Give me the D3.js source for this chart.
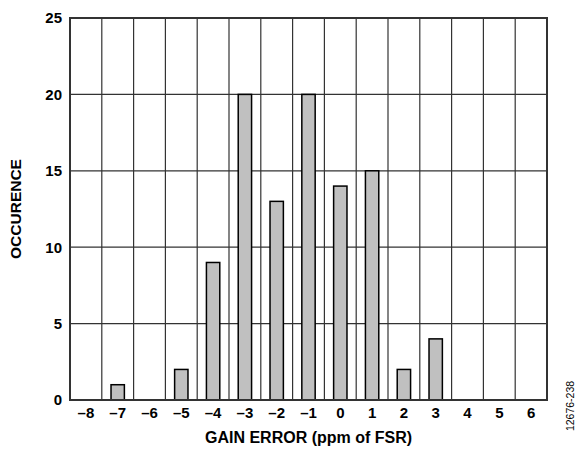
<!DOCTYPE html>
<style>
    body { margin: 0; background: #fff; }
    text { font-family: "Liberation Sans", Arial, sans-serif; }
    .axis .domain { display: none; }
    .axis line { display: none; }
</style>
<svg width="577" height="451"></svg>
<script src="https://d3js.org/d3.v7.min.js"></script>
<script>
    // gain error bins (ppm of FSR) and counts
    var bins = [-8, -7, -6, -5, -4, -3, -2, -1, 0, 1, 2, 3, 4, 5, 6];
    var counts = [0, 1, 0, 2, 9, 20, 13, 20, 14, 15, 2, 4, 0, 0, 0];
    var yTicks = [0, 5, 10, 15, 20, 25];

    var svg = d3.select("svg"),
        margin = { top: 18, right: 30, bottom: 51, left: 70 },
        width = +svg.attr("width") - margin.left - margin.right,
        height = +svg.attr("height") - margin.top - margin.bottom,
        g = svg.append("g").attr("transform", "translate(" + margin.left + "," + margin.top + ")");

    var x = d3.scaleBand().domain(bins).range([0, width]).padding(0);
    var y = d3.scaleLinear().domain([0, 25]).range([height, 0]);

    // grid
    g.append("g").selectAll("line").data(yTicks).enter().append("line")
        .attr("x1", 0).attr("x2", width)
        .attr("y1", function (d) { return y(d); })
        .attr("y2", function (d) { return y(d); })
        .attr("stroke", "#333").attr("stroke-width", 1.2);
    g.append("g").selectAll("line").data(bins.slice(1)).enter().append("line")
        .attr("x1", function (d) { return x(d); })
        .attr("x2", function (d) { return x(d); })
        .attr("y1", 0).attr("y2", height)
        .attr("stroke", "#333").attr("stroke-width", 1.2);

    // bars
    var bw = x.bandwidth() * 0.42;
    g.append("g").selectAll("rect")
        .data(bins.map(function (b, i) { return { b: b, v: counts[i] }; }).filter(function (d) { return d.v > 0; }))
        .enter().append("rect")
        .attr("x", function (d) { return x(d.b) + (x.bandwidth() - bw) / 2; })
        .attr("y", function (d) { return y(d.v); })
        .attr("width", bw)
        .attr("height", function (d) { return y(0) - y(d.v); })
        .attr("fill", "#c0c0c0")
        .attr("stroke", "#000")
        .attr("stroke-width", 1.5);

    // frame
    g.append("rect").attr("width", width).attr("height", height)
        .attr("fill", "none").attr("stroke", "#333").attr("stroke-width", 2);

    // axes
    g.append("g").attr("class", "axis")
        .attr("transform", "translate(0," + height + ")")
        .call(d3.axisBottom(x).tickSize(0).tickPadding(7)
            .tickFormat(function (d) { return d < 0 ? "\u2013" + (-d) : d; }))
        .selectAll("text")
        .attr("font-size", 15).attr("font-weight", "bold").attr("fill", "#000")
        .attr("font-family", "Liberation Sans, Arial, sans-serif");

    g.append("g").attr("class", "axis")
        .call(d3.axisLeft(y).tickValues(yTicks).tickSize(0).tickPadding(8))
        .selectAll("text")
        .attr("font-size", 15).attr("font-weight", "bold").attr("fill", "#000")
        .attr("font-family", "Liberation Sans, Arial, sans-serif");

    // titles
    svg.append("text")
        .attr("x", margin.left + width / 2).attr("y", 443)
        .attr("text-anchor", "middle").attr("font-size", 16).attr("font-weight", "bold")
        .text("GAIN ERROR (ppm of FSR)");
    svg.append("text")
        .attr("transform", "translate(21," + (margin.top + height / 2) + ") rotate(-90)")
        .attr("text-anchor", "middle").attr("font-size", 15.5).attr("font-weight", "bold")
        .text("OCCURENCE");
    svg.append("text")
        .attr("transform", "translate(574,406) rotate(-90)")
        .attr("text-anchor", "middle").attr("font-size", 10.5)
        .text("12676-238");
</script>
